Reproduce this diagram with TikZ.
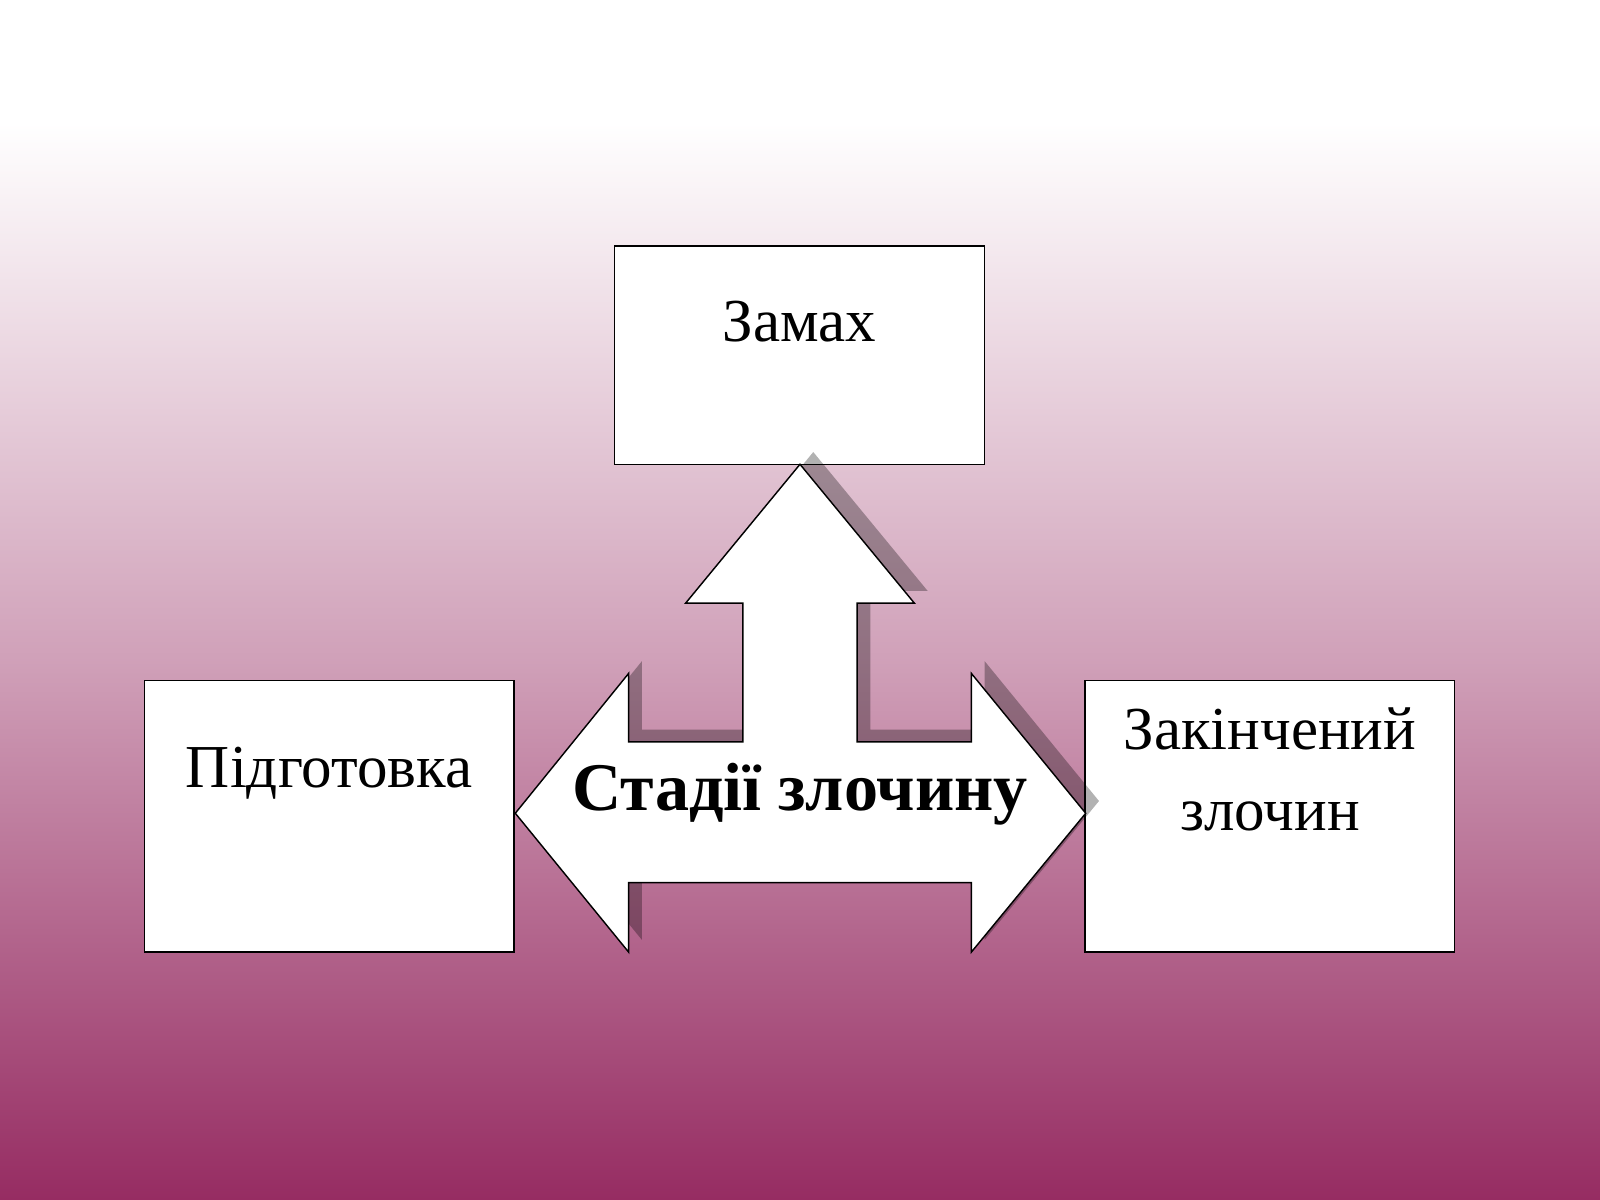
\documentclass[tikz,border=0pt]{standalone}
\usepackage{fontspec}
\setmainfont{Liberation Serif}
\usetikzlibrary{positioning}
\definecolor{plum}{RGB}{150,44,98}
\tikzset{
  stagebox/.style={draw=black,fill=white,minimum width=3.62cm,minimum height=2.14cm,inner sep=0pt},
  stagetext/.style={font=\fontsize{17}{22.5}\selectfont,align=center}
}
\begin{document}
\begin{tikzpicture}[x=0.01cm,y=-0.01cm]
  \useasboundingbox (0,0) rectangle (1568,1176);
  % background
  \fill[white] (0,0) rectangle (1568,120);
  \shade[top color=white,bottom color=plum,middle color=plum!45] (0,120) rectangle (1568,1176);
  \node[text=white,font=\fontsize{20}{24}\selectfont\bfseries] (title) at (784,88) {Стадії злочину};
  % boxes
  \node[stagebox,minimum height=2.14cm] (zamakh) at (783.5,348) {};
  \node[stagebox,minimum height=2.66cm] (pidg) at (322.5,800) {};
  \node[stagebox,minimum height=2.66cm] (zak) at (1244.5,800) {};
  \node[stagetext] (zamakhtxt) at (783.5,315) {Замах};
  \node[stagetext] (pidgtxt) at (322.5,758) {Підготовка};
  \node[stagetext] (zaktxt) at (1244.5,754) {Закінчений\\злочин};
  % arrow
  \def\arrowpath{(505,797)--(616,660)--(616,727)--(728,727)--(728,591)--(672,591)--(784,455)--(896,591)--(840,591)--(840,727)--(952,727)--(952,660)--(1064,797)--(952,933)--(952,865)--(616,865)--(616,933)--cycle}
  \fill[black,opacity=0.3,shift={(13,-12)}] \arrowpath;
  \draw[black,fill=white] \arrowpath;
  \node[font=\fontsize{19}{23}\selectfont\bfseries] (stages) at (784,778) {Стадії злочину};
\end{tikzpicture}
\end{document}
